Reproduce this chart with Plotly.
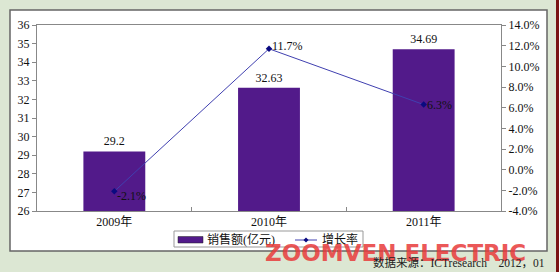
import plotly.graph_objects as go

categories = ["2009年", "2010年", "2011年"]
sales = [29.2, 32.63, 34.69]
growth = [-2.1, 11.7, 6.3]
sales_labels = ["29.2", "32.63", "34.69"]
growth_labels = ["-2.1%", "11.7%", "6.3%"]
series_names = ["销售额(亿元)", "增长率"]
left_ticks = list(range(26, 37))
right_ticks = [-4, -2, 0, 2, 4, 6, 8, 10, 12, 14]
right_ticklabels = ["-4.0%", "-2.0%", "0.0%", "2.0%", "4.0%", "6.0%", "8.0%", "10.0%", "12.0%", "14.0%"]

serif = "Liberation Serif, Noto Sans CJK SC, serif"
BAR_COLOR = "#521a8a"
LINE_COLOR = "#4040b0"
MARKER_COLOR = "#0a0a80"

# pixel -> paper helpers (plot area: x 37..501, y 25..211)
def px(x):
    return (x - 37) / 464

def py(y):
    return (211 - y) / 186

fig = go.Figure()
fig.add_trace(go.Bar(
    x=categories, y=sales, name=series_names[0],
    marker=dict(color=BAR_COLOR, line=dict(width=0)),
    width=0.4,
    text=sales_labels, textposition="outside", cliponaxis=False,
    textfont=dict(family=serif, size=12, color="#111"),
    showlegend=False,
))
fig.add_trace(go.Scatter(
    x=categories, y=growth, name=series_names[1], yaxis="y2",
    mode="lines+markers",
    line=dict(color=LINE_COLOR, width=1),
    marker=dict(symbol="diamond", size=5, color=MARKER_COLOR),
    showlegend=False,
))

label_yshift = [-5, 3, 0]
annotations = []
for c, g, t, ys in zip(categories, growth, growth_labels, label_yshift):
    annotations.append(dict(
        x=c, y=g, xref="x", yref="y2", text=t, showarrow=False,
        xanchor="left", yanchor="middle", xshift=1, yshift=ys,
        font=dict(family=serif, size=12, color="#111"),
    ))

# legend texts
annotations += [
    dict(text=series_names[0], xref="paper", yref="paper", x=px(205), y=py(239.5),
         xanchor="left", yanchor="middle", showarrow=False,
         font=dict(family=serif, size=12, color="#111")),
    dict(text=series_names[1], xref="paper", yref="paper", x=px(320), y=py(239.5),
         xanchor="left", yanchor="middle", showarrow=False,
         font=dict(family=serif, size=12, color="#111")),
    dict(text="ZOOMVEN ELECTRIC", xref="paper", yref="paper",
         x=px(263), y=py(253), xanchor="left", yanchor="middle",
         showarrow=False, opacity=0.85,
         font=dict(family="DejaVu Sans", size=23, color="#e83c3c", weight="bold")),
    dict(text="数据来源：ICTresearch　2012，01", xref="paper", yref="paper",
         x=px(547), y=py(262.5), xanchor="right", yanchor="middle",
         showarrow=False,
         font=dict(family=serif, size=11.5, color="#222")),
]

shapes = [
    # white panel
    dict(type="rect", xref="paper", yref="paper",
         x0=px(10), x1=px(547), y0=py(251), y1=py(10),
         fillcolor="white", line=dict(color="#666", width=1.5), layer="below"),
    # dark red strip on the right edge
    dict(type="rect", xref="paper", yref="paper",
         x0=px(556), x1=px(560), y0=py(273), y1=py(-1),
         fillcolor="#7a1414", line=dict(width=0), layer="below"),
    # legend box
    dict(type="rect", xref="paper", yref="paper",
         x0=px(174), x1=px(363), y0=py(247), y1=py(231),
         fillcolor="white", line=dict(color="#999", width=1)),
    # bar swatch
    dict(type="rect", xref="paper", yref="paper",
         x0=px(178), x1=px(203), y0=py(243), y1=py(236.5),
         fillcolor=BAR_COLOR, line=dict(color="#222", width=0.5)),
    # line swatch
    dict(type="line", xref="paper", yref="paper",
         x0=px(295), x1=px(317), y0=py(240), y1=py(240),
         line=dict(color=LINE_COLOR, width=1)),
    dict(type="path", xref="paper", yref="paper",
         path="M {a},{b} L {c},{d} L {a},{e} L {f},{d} Z".format(
             a=px(306), b=py(237.5), c=px(308.5), d=py(240), e=py(242.5), f=px(303.5)),
         fillcolor=MARKER_COLOR, line=dict(width=0)),
]

fig.update_layout(
    width=559, height=272,
    margin=dict(l=37, r=58, t=25, b=61),
    paper_bgcolor="#dce7d3",
    plot_bgcolor="white",
    showlegend=False,
    font=dict(family=serif, size=12, color="#111"),
    xaxis=dict(
        showline=True, linecolor="#888", linewidth=1, mirror=True,
        ticks="inside", ticklen=4, tickcolor="#888", tickson="boundaries",
        tickfont=dict(family=serif, size=12, color="#111"),
        showgrid=False, fixedrange=True,
    ),
    yaxis=dict(
        range=[26, 36], tickvals=left_ticks,
        showline=True, linecolor="#888", linewidth=1,
        ticks="outside", ticklen=4, tickcolor="#888",
        tickfont=dict(family=serif, size=12, color="#111"),
        showgrid=False, zeroline=False,
    ),
    yaxis2=dict(
        range=[-4, 14], tickvals=right_ticks, ticktext=right_ticklabels,
        overlaying="y", side="right",
        showline=True, linecolor="#888", linewidth=1,
        ticks="outside", ticklen=4, tickcolor="#888",
        tickfont=dict(family=serif, size=12, color="#111"),
        showgrid=False, zeroline=False,
    ),
    shapes=shapes,
    annotations=annotations,
)

fig.write_html("out.html")
